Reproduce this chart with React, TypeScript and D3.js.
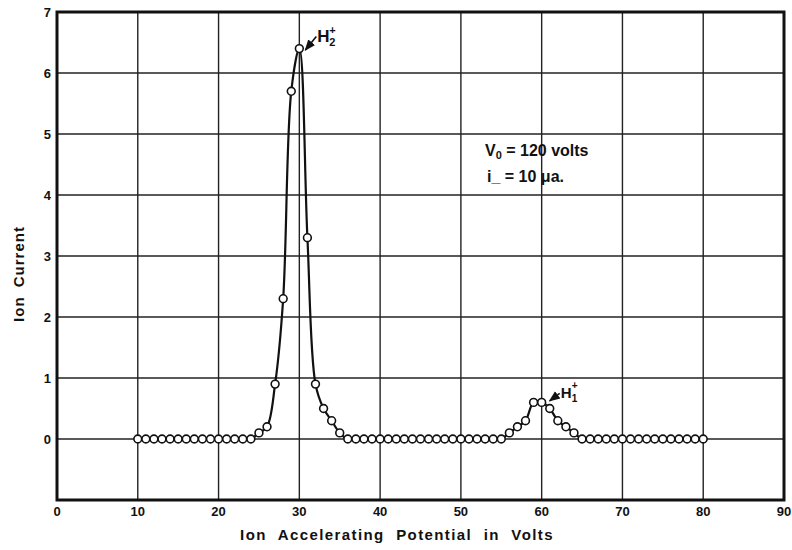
import React from 'react';
import * as d3 from 'd3';

// ion accelerating potential (volts) and measured ion current
const volts = [
  10, 11, 12, 13, 14, 15, 16, 17, 18, 19, 20, 21, 22, 23, 24,
  25, 26, 27, 28, 29, 30, 31, 32, 33, 34, 35,
  36, 37, 38, 39, 40, 41, 42, 43, 44, 45, 46, 47, 48, 49, 50, 51, 52, 53, 54,
  55, 56, 57, 58, 59, 60, 61, 62, 63, 64,
  65, 66, 67, 68, 69, 70, 71, 72, 73, 74, 75, 76, 77, 78, 79, 80,
];
const current = [
  0, 0, 0, 0, 0, 0, 0, 0, 0, 0, 0, 0, 0, 0, 0,
  0.1, 0.2, 0.9, 2.3, 5.7, 6.4, 3.3, 0.9, 0.5, 0.3, 0.1,
  0, 0, 0, 0, 0, 0, 0, 0, 0, 0, 0, 0, 0, 0, 0, 0, 0, 0, 0,
  0, 0.1, 0.2, 0.3, 0.6, 0.6, 0.5, 0.3, 0.2, 0.1,
  0, 0, 0, 0, 0, 0, 0, 0, 0, 0, 0, 0, 0, 0, 0, 0,
];
const xTicks = [0, 10, 20, 30, 40, 50, 60, 70, 80, 90];
const yTicks = [0, 1, 2, 3, 4, 5, 6, 7];
const yGrid = [-1, 0, 1, 2, 3, 4, 5, 6, 7];

const W = 792;
const H = 550;
const FONT = '"Liberation Sans", Arial, sans-serif';

export default function App() {
  const x = d3.scaleLinear().domain([0, 90]).range([57, 784]);
  const y = d3.scaleLinear().domain([-1, 7]).range([500, 12]);

  const points = volts.map((v, i) => ({ v, c: current[i] }));
  const line = d3.line<{ v: number; c: number }>()
    .x((d) => x(d.v))
    .y((d) => y(d.c))
    .curve(d3.curveCatmullRom.alpha(0.5));

  // label anchors taken from the two peaks
  const p2 = { x: x(30), y: y(6.4) };
  const p1 = { x: x(60), y: y(0.6) };

  return (
    <div style={{ position: 'fixed', left: 0, top: 0 }}>
      <svg width={W} height={H} style={{ display: 'block', background: '#fff' }}>
        <defs>
          <marker id="ah" viewBox="0 0 10 10" refX="9" refY="5"
            markerWidth="7" markerHeight="7" orient="auto-start-reverse">
            <path d="M0,1 L10,5 L0,9 z" fill="#111" />
          </marker>
        </defs>

        {/* grid */}
        <g stroke="#222" strokeWidth={1.4}>
          {xTicks.slice(1, -1).map((t) => (
            <line key={'gx' + t} x1={x(t)} x2={x(t)} y1={y(7)} y2={y(-1)} />
          ))}
          {yGrid.slice(1, -1).map((t) => (
            <line key={'gy' + t} x1={x(0)} x2={x(90)} y1={y(t)} y2={y(t)} />
          ))}
        </g>
        <rect x={x(0)} y={y(7)} width={x(90) - x(0)} height={y(-1) - y(7)}
          fill="none" stroke="#111" strokeWidth={3} />

        {/* tick labels */}
        <g fontFamily={FONT} fontWeight="bold" fontSize={13} fill="#111">
          {xTicks.map((t) => (
            <text key={'xt' + t} x={x(t)} y={516} textAnchor="middle">{t}</text>
          ))}
          {yTicks.map((t) => (
            <text key={'yt' + t} x={51} y={y(t) + 4.5} textAnchor="end">{t}</text>
          ))}
        </g>

        {/* axis titles */}
        <text x={397} y={540} textAnchor="middle" fontFamily={FONT} fontWeight="bold"
          fontSize={15} letterSpacing={1.4} wordSpacing={6} fill="#111">Ion Accelerating Potential in Volts</text>
        <text transform="translate(24,274) rotate(-90)" textAnchor="middle" fontFamily={FONT}
          fontWeight="bold" fontSize={15} letterSpacing={1} wordSpacing={4} fill="#111">Ion Current</text>

        {/* data */}
        <path d={line(points) ?? ''} fill="none" stroke="#111" strokeWidth={2.2} />
        <g fill="#fff" stroke="#111" strokeWidth={1.6}>
          {points.map((d) => (
            <circle key={'p' + d.v} cx={x(d.v)} cy={y(d.c)} r={3.9} />
          ))}
        </g>

        {/* peak labels */}
        <line x1={p2.x + 17} y1={p2.y - 12} x2={p2.x + 6} y2={p2.y + 1.5}
          stroke="#111" strokeWidth={1.6} markerEnd="url(#ah)" />
        <g fontFamily={FONT} fontWeight="bold" fill="#111">
          <text x={p2.x + 18} y={p2.y - 7} fontSize={17}>H</text>
          <text x={p2.x + 30} y={p2.y - 3} fontSize={11}>2</text>
          <text x={p2.x + 30} y={p2.y - 15} fontSize={11}>+</text>
        </g>
        <line x1={p1.x + 18} y1={p1.y - 9} x2={p1.x + 8} y2={p1.y - 1.5}
          stroke="#111" strokeWidth={1.6} markerEnd="url(#ah)" />
        <g fontFamily={FONT} fontWeight="bold" fill="#111">
          <text x={p1.x + 19} y={p1.y - 4} fontSize={15}>H</text>
          <text x={p1.x + 30} y={p1.y} fontSize={10}>1</text>
          <text x={p1.x + 30} y={p1.y - 13} fontSize={10}>+</text>
        </g>

        {/* operating conditions */}
        <g fontFamily={FONT} fontWeight="bold" fill="#111" fontSize={16}>
          <text x={485} y={156}>V<tspan fontSize={11} dy={3}>0</tspan>
            <tspan dy={-3}> = 120 volts</tspan></text>
          <text x={487} y={182}>i<tspan dy={0}>_</tspan> = 10 μa.</text>
        </g>
      </svg>
    </div>
  );
}
